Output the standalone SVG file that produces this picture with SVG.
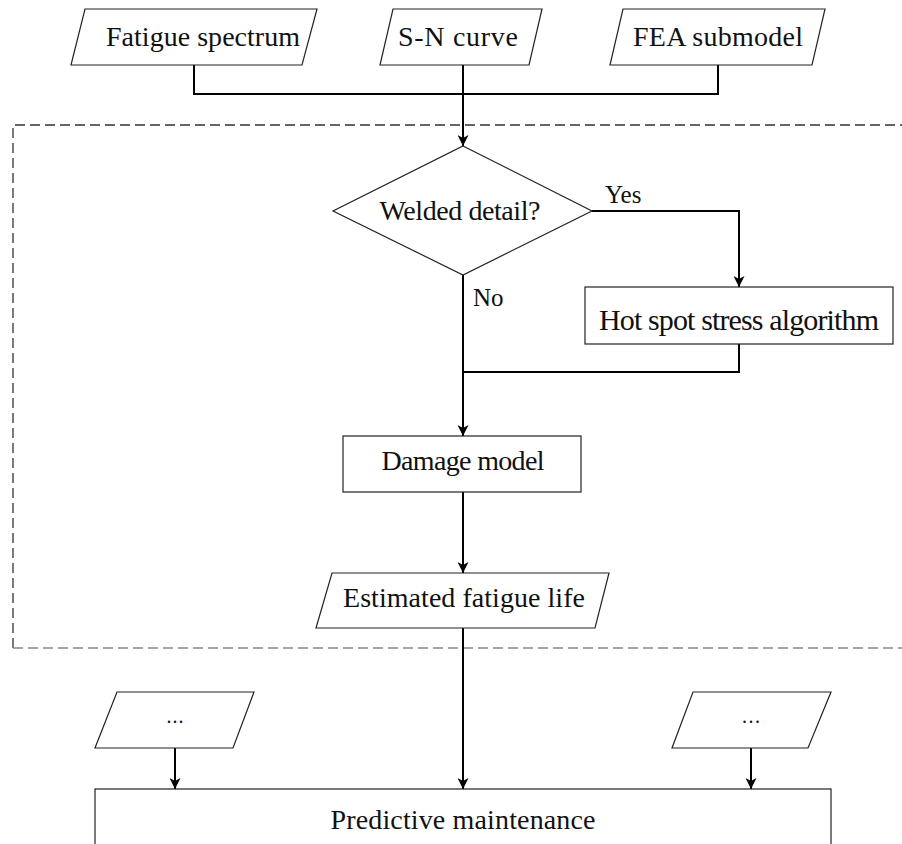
<svg xmlns="http://www.w3.org/2000/svg" width="902" height="844" viewBox="0 0 902 844">
<style>
.shape{fill:#fff;stroke:#222;stroke-width:1.2}
.conn{fill:none;stroke:#000;stroke-width:2}
.t{font-family:"Liberation Serif","Times New Roman",serif;font-size:28px;fill:#111;text-anchor:middle}
.lbl{font-family:"Liberation Serif","Times New Roman",serif;font-size:25px;fill:#111}
</style>
<defs>
<marker id="arr" markerUnits="userSpaceOnUse" markerWidth="11" markerHeight="11" refX="11" refY="5.5" orient="auto">
<path d="M0,0 L11,5.5 L0,11 L3,5.5 z" fill="#000"/>
</marker>
</defs>
<rect width="902" height="844" fill="#fff"/>
<g id="group-frame">
<path d="M13,648 L13,125 L910,125" fill="none" stroke="#333" stroke-width="1.3" stroke-dasharray="10,5"/>
<path d="M13,648 L910,648" fill="none" stroke="#888" stroke-width="1.3" stroke-dasharray="10,5"/>
</g>
<g id="connectors">
<path class="conn" d="M194,65 L194,94 L718,94 L718,65"/>
<path class="conn" d="M463,65 L463,146" marker-end="url(#arr)"/>
<path class="conn" d="M592,211 L739,211 L739,287" marker-end="url(#arr)"/>
<path class="conn" d="M739,344 L739,372 L463,372"/>
<path class="conn" d="M463,275 L463,436" marker-end="url(#arr)"/>
<path class="conn" d="M463,492 L463,573" marker-end="url(#arr)"/>
<path class="conn" d="M463,628 L463,789" marker-end="url(#arr)"/>
<path class="conn" d="M175,748 L175,789" marker-end="url(#arr)"/>
<path class="conn" d="M751,748 L751,789" marker-end="url(#arr)"/>
<text class="lbl" x="605" y="203">Yes</text>
<text class="lbl" x="473" y="306">No</text>
</g>
<g id="node-fatigue-spectrum">
<polygon class="shape" points="85,9 317,9 302,65 71,65"/>
<text class="t" x="203" y="46" textLength="194" lengthAdjust="spacing">Fatigue spectrum</text>
</g>
<g id="node-sn-curve">
<polygon class="shape" points="393,9 542,9 529,65 380,65"/>
<text class="t" x="458" y="46" textLength="120" lengthAdjust="spacing">S-N curve</text>
</g>
<g id="node-fea-submodel">
<polygon class="shape" points="623,9 825,9 812,65 610,65"/>
<text class="t" x="718" y="46" textLength="170" lengthAdjust="spacing">FEA submodel</text>
</g>
<g id="node-welded-detail">
<polygon class="shape" points="463,146 592,211 463,275 333,211"/>
<text class="t" x="460" y="220" textLength="161" lengthAdjust="spacing">Welded detail?</text>
</g>
<g id="node-hot-spot">
<rect class="shape" x="585" y="287" width="308" height="57"/>
<text class="t" x="739" y="330" style="font-size:30px" textLength="280" lengthAdjust="spacing">Hot spot stress algorithm</text>
</g>
<g id="node-damage-model">
<rect class="shape" x="343" y="436" width="238" height="56"/>
<text class="t" x="463" y="470" textLength="163" lengthAdjust="spacing">Damage model</text>
</g>
<g id="node-estimated-life">
<polygon class="shape" points="332,573 609,573 595,628 316,628"/>
<text class="t" x="464" y="607" textLength="242" lengthAdjust="spacing">Estimated fatigue life</text>
</g>
<g id="node-other-left">
<polygon class="shape" points="117,692 254,692 233,748 95,748"/>
<text class="t" x="175" y="723" style="font-size:20px" textLength="17" lengthAdjust="spacing">...</text>
</g>
<g id="node-other-right">
<polygon class="shape" points="693,692 831,692 808,748 672,748"/>
<text class="t" x="751" y="723" style="font-size:20px" textLength="18" lengthAdjust="spacing">...</text>
</g>
<g id="node-predictive-maintenance">
<rect class="shape" x="95" y="789" width="736" height="70"/>
<text class="t" x="463" y="829" textLength="265" lengthAdjust="spacing">Predictive maintenance</text>
</g>
</svg>
